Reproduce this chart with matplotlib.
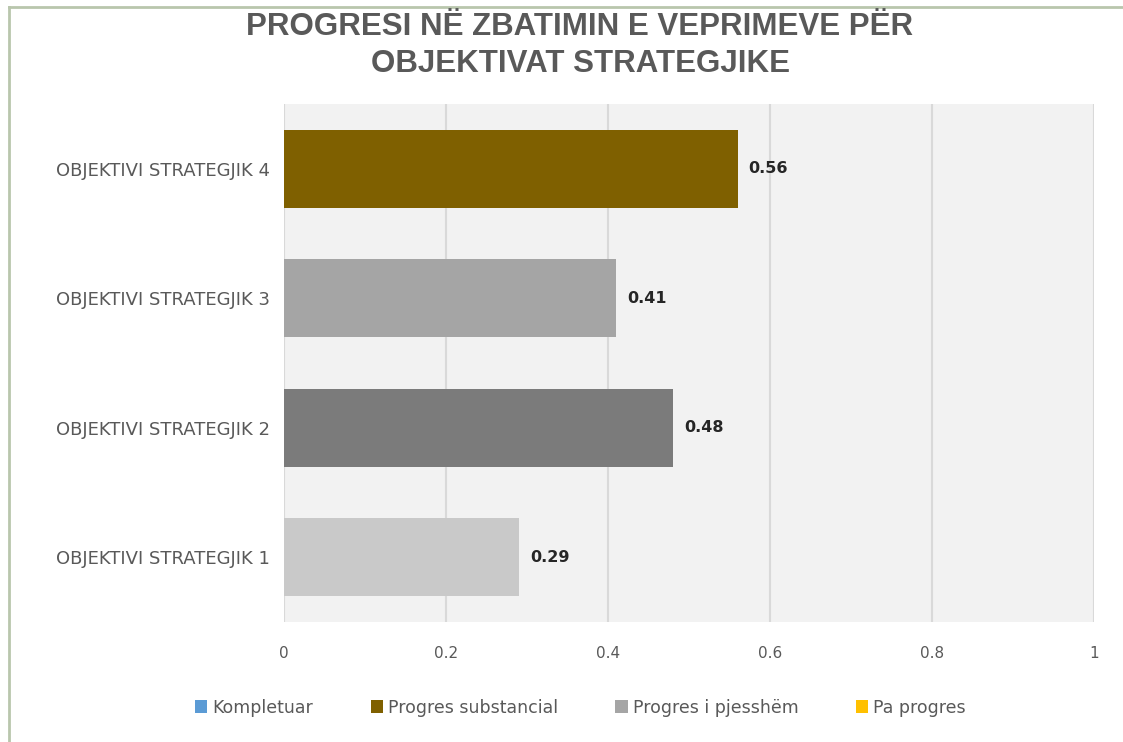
import matplotlib.pyplot as plt
from matplotlib.patches import Patch
from matplotlib.lines import Line2D

plt.rcParams['font.family'] = ['DejaVu Sans']

categories = ['OBJEKTIVI STRATEGJIK 1', 'OBJEKTIVI STRATEGJIK 2',
              'OBJEKTIVI STRATEGJIK 3', 'OBJEKTIVI STRATEGJIK 4']
values = [0.29, 0.48, 0.41, 0.56]
bar_colors = ['#c9c9c9', '#7b7b7b', '#a5a5a5', '#7f6000']

legend_labels = ['Kompletuar', 'Progres substancial', 'Progres i pjesshëm', 'Pa progres']
legend_colors = ['#5b9bd5', '#7f6000', '#a5a5a5', '#ffc000']

xticks = [0, 0.2, 0.4, 0.6, 0.8, 1]
xtick_labels = ['0', '0.2', '0.4', '0.6', '0.8', '1']

title = 'PROGRESI NË ZBATIMIN E VEPRIMEVE PËR\nOBJEKTIVAT STRATEGJIKE'

fig = plt.figure(figsize=(11.23, 7.42), dpi=100)
ax = fig.add_axes([0.2529, 0.1617, 0.7213, 0.6981])
ax.set_facecolor('#f2f2f2')

ax.barh(range(len(categories)), values, height=0.6, color=bar_colors, zorder=3)
for i, v in enumerate(values):
    ax.annotate(f'{v:.2f}', (v, i), xytext=(8, 0), textcoords='offset points',
                va='center', ha='left', fontsize=11.5, fontweight='bold', color='#262626')

ax.set_xlim(0, 1)
ax.set_ylim(-0.5, len(categories) - 0.5)
ax.set_xticks(xticks)
ax.set_xticklabels(xtick_labels)
ax.set_yticks(range(len(categories)))
ax.set_yticklabels(categories)
ax.tick_params(axis='x', length=0, pad=17, labelsize=11, labelcolor='#595959')
ax.tick_params(axis='y', length=0, pad=10, labelsize=13, labelcolor='#595959')
ax.grid(axis='x', color='#d9d9d9', linewidth=1.5, zorder=0)
for s in ax.spines.values():
    s.set_visible(False)

fig.text(0.5165, 0.939, title, ha='center', va='center', fontsize=22.5, fontweight='bold',
         color='#595959', family=['Liberation Sans Narrow', 'Liberation Sans'],
         linespacing=1.3)

handles = [Patch(facecolor=c, edgecolor='none') for c in legend_colors]
fig.legend(handles, legend_labels, loc='center', bbox_to_anchor=(0.517, 0.046), ncol=4,
           frameon=False, fontsize=12.5, labelcolor='#595959', handlelength=0.7,
           handleheight=0.8, handletextpad=0.3, columnspacing=3.3)

# chart frame (only top and left edges are visible in the crop)
fig.add_artist(Line2D([0.008, 0.008], [0, 0.991], color='#b9c6ad', linewidth=2))
fig.add_artist(Line2D([0.008, 1], [0.991, 0.991], color='#b9c6ad', linewidth=2))

fig.savefig('out.png', dpi=100)
